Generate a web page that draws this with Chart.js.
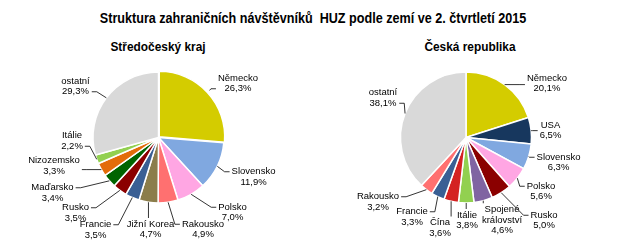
<!DOCTYPE html>
<html>
<head>
<meta charset="utf-8">
<script src="https://cdn.jsdelivr.net/npm/chart.js@4.4.0/dist/chart.umd.min.js"></script>
<style>
    body { margin: 0; background: #fff; }
    #wrap { position: relative; width: 625px; height: 244px; overflow: hidden;
            font-family: "Liberation Sans", Arial, sans-serif; }
    /* narrow bold headings: Arial scaled horizontally */
    .ttl { position: absolute; font-weight: bold; white-space: nowrap; color: #000;
           transform: translateX(-50%) scaleX(0.88); transform-origin: 50% 50%; line-height: 1; }
    #title { left: 313px; top: 11px; font-size: 14px; transform: translateX(-50%) scaleX(0.9); }
    #subLeft { left: 158px; top: 40px; font-size: 13.5px; }
    #subRight { left: 470px; top: 40px; font-size: 13.5px; }
    canvas { position: absolute; top: 0; }
    #stcChart { left: 0; }
    #czChart { left: 312px; }
</style>
</head>
<body>
<div id="wrap">
    <div class="ttl" id="title">Struktura zahraničních návštěvníků&nbsp; HUZ podle zemí ve 2. čtvrtletí 2015</div>
    <div class="ttl" id="subLeft">Středočeský kraj</div>
    <div class="ttl" id="subRight">Česká republika</div>
    <canvas id="stcChart" width="312" height="244"></canvas>
    <canvas id="czChart" width="313" height="244"></canvas>
</div>
<script>
// Středočeský kraj - shares of foreign visitors (%)
const stcCountries = ['Německo', 'Slovensko', 'Polsko', 'Rakousko', 'Jižní Korea', 'Francie',
                      'Rusko', 'Maďarsko', 'Nizozemsko', 'Itálie', 'ostatní'];
const stcShares = [26.3, 11.9, 7.0, 4.9, 4.7, 3.5, 3.5, 3.4, 3.3, 2.2, 29.3];

// Česká republika - shares of foreign visitors (%)
const czCountries = ['Německo', 'USA', 'Slovensko', 'Polsko', 'Rusko', 'Spojené království',
                     'Itálie', 'Čína', 'Francie', 'Rakousko', 'ostatní'];
const czShares = [20.1, 6.5, 6.3, 5.6, 5.0, 4.6, 3.8, 3.6, 3.3, 3.2, 38.1];

// names that wrap onto two lines in the label
const wrapNames = ['Spojené království'];

// colours per country
const countryColors = {
    'Německo': '#D4CC00', 'Slovensko': '#80A8E0', 'Polsko': '#FFA6E3', 'Rakousko': '#FF7070',
    'Jižní Korea': '#8B7D4B', 'Francie': '#3A5F94', 'Rusko': '#8B0000', 'Maďarsko': '#006400',
    'Nizozemsko': '#E36C0A', 'Itálie': '#92D050', 'ostatní': '#D9D9D9', 'USA': '#17375E',
    'Spojené království': '#8064A2', 'Čína': '#D42222'
};

// label block centres, px from the pie centre
const stcLabelPos = [[79.5, -54], [95, 39.5], [74, 75], [44.5, 92], [-8, 92], [-63, 92.5],
                     [-83, 75.5], [-106, 55.5], [-104.5, 28.5], [-86.5, 3.5], [-83, -51]];
const czLabelPos = [[81, -54], [84.5, -7], [92.5, 25], [75, 54], [78, 83], [36, 82.5],
                    [1, 83], [-26, 90.5], [-54, 79.5], [-88, 64.5], [-83, -39.5]];

function pct(v) {
    return v.toFixed(1).replace('.', ',') + '%';
}

function labelLines(names, values) {
    return names.map((n, i) => {
        const nameLines = wrapNames.includes(n) ? n.split(' ') : [n];
        return nameLines.concat([pct(values[i])]);
    });
}

// Draw outside labels with leader lines (Excel style)
const leaderLabels = {
    id: 'leaderLabels',
    afterDatasetsDraw(chart, args, opts) {
        const ctx = chart.ctx;
        const meta = chart.getDatasetMeta(0);
        const ds = chart.data.datasets[0];
        const lh = opts.lineHeight;
        ctx.save();
        ctx.font = opts.font;
        ctx.fillStyle = '#000';
        ctx.strokeStyle = '#000';
        ctx.lineWidth = 0.8;
        ctx.textAlign = 'center';
        ctx.textBaseline = 'middle';
        meta.data.forEach((arc, i) => {
            const p = arc.getProps(['x', 'y', 'startAngle', 'endAngle', 'outerRadius'], true);
            const off = Array.isArray(ds.offset) ? ds.offset[i] : 0;
            const mid = (p.startAngle + p.endAngle) / 2;
            const px = p.x + Math.cos(mid) * (p.outerRadius + off);
            const py = p.y + Math.sin(mid) * (p.outerRadius + off);
            const lines = opts.lines[i];
            const cx = p.x + opts.positions[i][0];
            const cy = p.y + opts.positions[i][1];
            const w = Math.max(...lines.map(t => ctx.measureText(t).width));
            const h = lines.length * lh;
            const left = cx - w / 2, right = cx + w / 2, top = cy - h / 2, bottom = cy + h / 2;

            ctx.beginPath();
            ctx.moveTo(px, py);
            if (px < left - 2 || px > right + 2) {
                const side = px < left ? -1 : 1;
                const ax = side < 0 ? left - 2 : right + 2;
                const ay = Math.min(Math.max(py, cy - lh / 2), cy + lh / 2);
                ctx.lineTo(ax + side * 5, ay);
                ctx.lineTo(ax, ay);
            } else {
                ctx.lineTo(px, py < top ? top - 1 : bottom + 1);
            }
            ctx.stroke();

            lines.forEach((t, k) => ctx.fillText(t, cx, top + lh * (k + 0.5)));
        });
        ctx.restore();
    }
};

function makePie(canvasId, names, values, labelPos, offsets, padding) {
    return new Chart(document.getElementById(canvasId), {
        type: 'pie',
        data: {
            labels: names,
            datasets: [{
                data: values,
                backgroundColor: names.map(n => countryColors[n]),
                borderColor: '#fff',
                borderWidth: 1.5,
                offset: offsets
            }]
        },
        options: {
            responsive: false,
            animation: false,
            events: [],
            radius: 65.5,
            layout: { padding: padding },
            plugins: {
                legend: { display: false },
                tooltip: { enabled: false },
                leaderLabels: {
                    font: '9.5px "Liberation Sans", Arial, sans-serif',
                    lineHeight: 10.5,
                    lines: labelLines(names, values),
                    positions: labelPos
                }
            }
        },
        plugins: [leaderLabels]
    });
}

document.addEventListener('DOMContentLoaded', function() {
    makePie('stcChart', stcCountries, stcShares, stcLabelPos,
            stcCountries.map(n => n === 'Německo' ? 4 : 0),
            { left: 92, right: 87, top: 71, bottom: 40 });
    makePie('czChart', czCountries, czShares, czLabelPos,
            czCountries.map(() => 0),
            { left: 88, right: 93, top: 71, bottom: 40 });
});
</script>
</body>
</html>
